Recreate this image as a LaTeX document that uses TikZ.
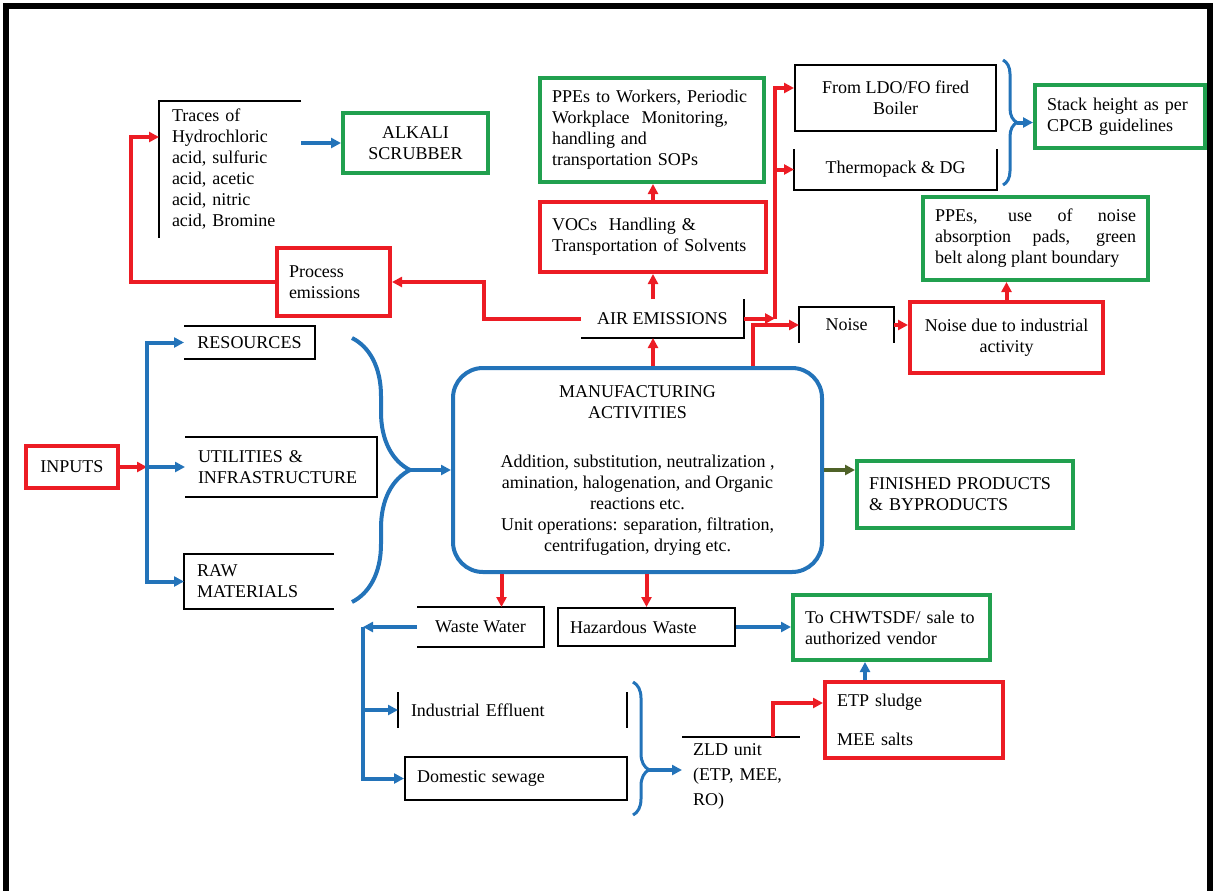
\documentclass[tikz,border=0pt]{standalone}
\usepackage{fontspec}
\setmainfont{Liberation Serif}
\usepackage{tikz}
\usetikzlibrary{arrows.meta,calc,positioning,decorations.pathreplacing}
\definecolor{FlowRed}{HTML}{EC1C24}
\definecolor{FlowGreen}{HTML}{21A04F}
\definecolor{FlowBlue}{HTML}{2373B9}
\definecolor{FlowOlive}{HTML}{4F6228}

\begin{document}
\begin{tikzpicture}[
    x=0.5pt,y=-0.5pt,
    every node/.style={font=\fontsize{9}{10.5}\selectfont},
    flowbox/.style={inner xsep=6pt,inner ysep=0pt,line width=1pt},
    blackbox/.style={flowbox,draw=black},
    greenbox/.style={flowbox,draw=FlowGreen,line width=2pt},
    redbox/.style={flowbox,draw=FlowRed,line width=2pt},
    rim/.style={line width=1pt},
    redarrow/.style={-{Triangle[length=5pt,width=5pt]},line width=2pt,draw=FlowRed},
    bluearrow/.style={-{Triangle[length=5pt,width=5pt]},line width=2pt,draw=FlowBlue},
    bluebrace/.style={decorate,line width=1.5pt,draw=FlowBlue}
  ]
    \useasboundingbox (0,0) rectangle (1216,890);
    \draw[line width=3pt] (6,900) -- (6,6) -- (1210,6) -- (1210,900);

    % inputs side
    \node[redbox,minimum width=46pt,minimum height=21pt] (inputs) at (72,467) {INPUTS};
    \node[flowbox,minimum width=64.5pt,minimum height=15.5pt] (res) at (249.5,342.5) {RESOURCES};
    \node[flowbox,text width=83pt,minimum height=29pt,align=left] (util) at (281,467) {UTILITIES \&\\INFRASTRUCTURE};
    \node[flowbox,text width=62pt,minimum height=26.5pt,align=left] (raw) at (259,581.5) {RAW\\MATERIALS};

    % manufacturing
    \node[draw=FlowBlue,line width=2pt,rounded corners=15pt,minimum width=184.5pt,minimum height=102pt,align=center] (mfg) at (637.5,470)
      {MANUFACTURING\\ACTIVITIES\\[14pt]Addition, substitution, neutralization ,\\amination, halogenation, and Organic\\reactions etc.\\Unit operations: separation, filtration,\\centrifugation, drying etc.};
    \node[greenbox,text width=96pt,minimum height=33.5pt,align=left] (fin) at (965,494.5) {FINISHED PRODUCTS\\\& BYPRODUCTS};

    % air emissions
    \node[flowbox,minimum width=80.5pt,minimum height=18.5pt] (air) at (662.5,318.5) {AIR EMISSIONS};
    \node[redbox,text width=101pt,minimum height=35pt,align=left] (vocs) at (653,237) {VOCs\ \ Handling \&\\Transportation of Solvents};
    \node[greenbox,text width=100pt,minimum height=52pt,align=left] (ppew) at (652,130) {PPEs to Workers, Periodic\\Workplace\ \ Monitoring,\\handling and\\transportation SOPs};
    \node[redbox,text width=44.5pt,minimum height=34pt,align=left] (process) at (333.5,282) {Process\\emissions};
    \node[flowbox,text width=58pt,minimum height=67.5pt,align=left] (traces) at (230,169) {Traces of\\Hydrochloric\\acid, sulfuric\\acid, acetic\\acid, nitric\\acid, Bromine};
    \node[greenbox,minimum width=72.5pt,minimum height=30pt,align=center] (alkali) at (415.5,143) {ALKALI\\SCRUBBER};
    \node[blackbox,minimum width=100.5pt,minimum height=33pt,align=center] (ldo) at (895.5,98) {From LDO/FO fired\\Boiler};
    \node[flowbox,minimum width=100.5pt,minimum height=19.5pt,below=8.5pt of ldo] (thermo) {Thermopack \& DG};
    \node[greenbox,text width=73pt,minimum height=31.5pt,align=left] (stack) at (1120,116.5) {Stack height as per\\CPCB guidelines};

    % noise
    \node[flowbox,minimum width=46.5pt,minimum height=17pt] (noise) at (846.5,325) {Noise};
    \node[redbox,minimum width=96.5pt,minimum height=35.5pt,align=center] (noisebox) at (1006.5,337.5) {Noise due to industrial\\activity};
    \node[greenbox,text width=100.5pt,minimum height=41.5pt,align=justify] (ppen) at (1035.5,238.5) {PPEs, use of noise\linebreak absorption pads, green\linebreak belt along plant boundary};

    % waste
    \node[flowbox,minimum width=62.5pt,minimum height=19pt] (ww) at (480.5,627) {Waste Water};
    \node[blackbox,text width=76.5pt,minimum height=19pt,align=left] (haz) at (646.5,627) {Hazardous Waste};
    \node[greenbox,text width=86.5pt,minimum height=32.5pt,align=left] (chw) at (891.5,627.5) {To CHWTSDF/ sale to\\authorized vendor};
    \node[redbox,text width=77pt,minimum height=38pt,align=left] (etp) at (914,720) {ETP sludge\\[9pt]MEE salts};
    \node[flowbox,text width=101.5pt,minimum height=17pt,align=left] (ind) at (512.5,710) {Industrial Effluent};
    \node[blackbox,text width=99pt,minimum height=21.5pt,align=left] (dom) at (516,778.5) {Domestic sewage};
    \node[flowbox,inner xsep=5pt,text width=48pt,minimum height=38.5pt,align=left,font=\fontsize{9}{12.5}\selectfont] (zld) at (741,776.5) {ZLD unit\\(ETP, MEE,\\RO)};

    % open box sides
    \draw[rim] (traces.north east) -- (traces.north west) -- (traces.south west);
    \draw[rim] (air.north east) -- (air.south east) -- (air.south west);
    \draw[rim] (thermo.north west) -- (thermo.south west) -- (thermo.south east) -- (thermo.north east);
    \draw[rim] (noise.south west) -- (noise.north west) -- (noise.north east) -- (noise.south east);
    \foreach \n in {res,util,ww}
      \draw[rim] (\n.north west) -- (\n.north east) -- (\n.south east) -- (\n.south west);
    \draw[rim] (raw.north east) -- (raw.north west) -- (raw.south west) -- (raw.south east);
    \draw[rim] (zld.north west) -- (zld.north east);
    \draw[rim] (ind.north west) -- (ind.south west) (ind.north east) -- (ind.south east);

    % inputs to manufacturing
    \coordinate (fork) at (147,467);
    \draw[redarrow] (inputs.east) -- (fork);
    \foreach \n in {res,util,raw}
      \draw[bluearrow] (fork) |- (\n.west);
    \draw[bluebrace,line width=2pt,decoration={brace,amplitude=29pt}] (352,338) -- (352,602);
    \coordinate (intip) at (410,470);
    \draw[bluearrow] (intip) -- (mfg.west);
    \draw[-{Triangle[length=5pt,width=5pt]},line width=2pt,draw=FlowOlive] (mfg.east) -- (mfg.east -| fin.west);

    % air emissions
    \draw[redarrow] (vocs.south |- mfg.north) -- (vocs.south |- air.south);
    \draw[redarrow] (vocs.south |- air.north) -- (vocs.south);
    \draw[redarrow] (vocs.north) -- (vocs.north |- ppew.south);
    \draw[redarrow] (air.west) -- ++(-97,0) |- (process.east);
    \draw[redarrow] (process.west) -- ++(-144,0) |- ([yshift=16pt]traces.west);
    \draw[bluearrow] (traces.east |- alkali.west) -- (alkali.west);
    \coordinate (airsplit) at (775,318.5);
    \draw[redarrow] (air.east) -- (airsplit);
    \draw[redarrow] (airsplit) |- ([yshift=5pt]ldo.west);
    \draw[redarrow] (airsplit) |- (thermo.west);
    \draw[bluebrace,decoration={brace,amplitude=7pt}] (1003,60) -- (1003,185);
    \coordinate (stacktip) at (1017,122.5);
    \draw[bluearrow] (stacktip) -- (stacktip -| stack.west);

    % noise
    \draw[redarrow] ([xshift=57.5pt]mfg.north) |- (noise.west);
    \draw[redarrow] (noise.east) -- (noise.east -| noisebox.west);
    \draw[redarrow] (noisebox.north) -- (noisebox.north |- ppen.south);

    % waste
    \coordinate (wwtop) at ([xshift=-68pt]mfg.south);
    \draw[redarrow] (wwtop) -- (wwtop |- ww.north);
    \draw[redarrow] (haz.north |- mfg.south) -- (haz.north);
    \draw[bluearrow] (haz.east) -- (haz.east -| chw.west);
    \coordinate (wwfork) at (363,627);
    \draw[bluearrow] (ww.west) -- (wwfork);
    \draw[bluearrow] (wwfork) |- (dom.west);
    \draw[bluearrow] (wwfork |- ind.west) -- (ind.west);
    \draw[bluebrace,decoration={brace,amplitude=8pt,aspect=0.66}] (633,682) -- (633,815);
    \coordinate (zldtip) at (649,770);
    \draw[bluearrow] (zldtip) -- (zldtip -| zld.west);
    \draw[redarrow] ([xshift=16pt]zld.north) |- ([yshift=8.5pt]etp.west);
    \coordinate (etptop) at ([xshift=-24.5pt]etp.north);
    \draw[bluearrow] (etptop) -- (etptop |- chw.south);
  \end{tikzpicture}
\end{document}
